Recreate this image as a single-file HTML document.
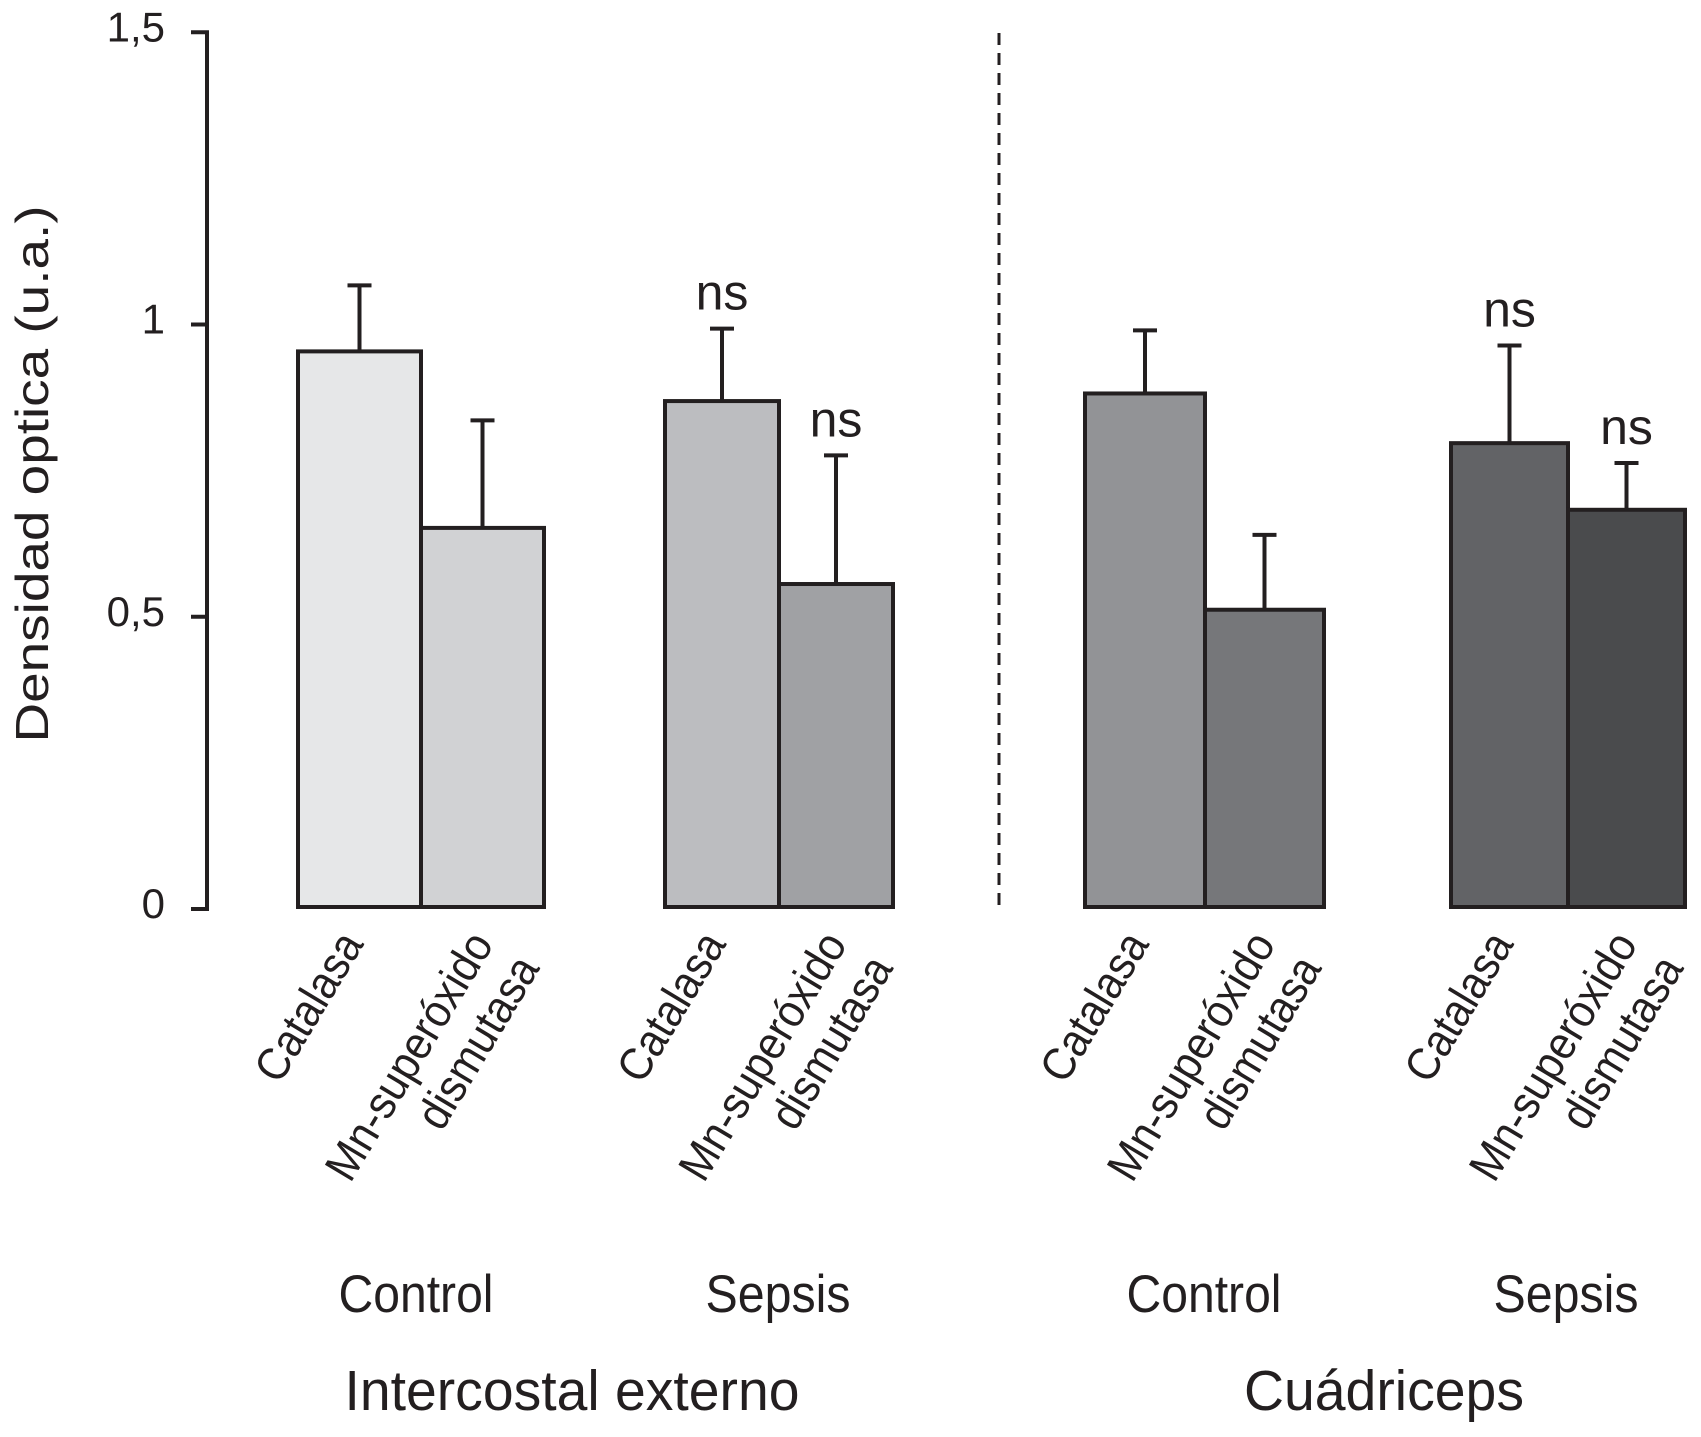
<!DOCTYPE html>
<html><head><meta charset="utf-8"><style>
html,body{margin:0;padding:0;background:#fff;}
svg{display:block;}
text{font-family:"Liberation Sans",sans-serif;fill:#231f20;}
</style></head><body>
<svg id="chart" width="1701" height="1437" viewBox="0 0 1701 1437" xmlns="http://www.w3.org/2000/svg">
<g id="axis"></g>
<g id="bars"></g>
<g id="labels"></g>
<line x1="999" y1="33" x2="999" y2="909" stroke="#231f20" stroke-width="3" stroke-dasharray="12,8"/>
<text transform="translate(48,474) rotate(-90)" text-anchor="middle" font-size="46" textLength="537" lengthAdjust="spacingAndGlyphs">Densidad optica (u.a.)</text>
<text x="416" y="1312" text-anchor="middle" font-size="53" textLength="155" lengthAdjust="spacingAndGlyphs">Control</text>
<text x="778" y="1312" text-anchor="middle" font-size="53" textLength="145" lengthAdjust="spacingAndGlyphs">Sepsis</text>
<text x="1204" y="1312" text-anchor="middle" font-size="53" textLength="155" lengthAdjust="spacingAndGlyphs">Control</text>
<text x="1566" y="1312" text-anchor="middle" font-size="53" textLength="145" lengthAdjust="spacingAndGlyphs">Sepsis</text>
<text x="572" y="1410" text-anchor="middle" font-size="57" textLength="455" lengthAdjust="spacingAndGlyphs">Intercostal externo</text>
<text x="1384" y="1410" text-anchor="middle" font-size="57" textLength="280" lengthAdjust="spacingAndGlyphs">Cuádriceps</text>
</svg>
<script>
const categories = ["Catalasa","Mn-superóxido dismutasa","Catalasa","Mn-superóxido dismutasa","Catalasa","Mn-superóxido dismutasa","Catalasa","Mn-superóxido dismutasa"];
const values = [0.954, 0.652, 0.869, 0.556, 0.882, 0.512, 0.797, 0.683];
const errors = [1.067, 0.836, 0.993, 0.776, 0.990, 0.640, 0.964, 0.763];
const ns = [false, false, true, true, false, false, true, true];
const yTicks = [0, 0.5, 1, 1.5];
const yTickLabels = ["0","0,5","1","1,5"];
const colors = ["#e6e7e8","#d1d2d4","#bcbdc0","#a0a1a4","#929396","#76777a","#626366","#4a4b4d"];
const barLeft = [298,421,665,779,1085,1205,1451,1568];
const barW = [123,123,114,114,120,119,117,117];
const NS = "http://www.w3.org/2000/svg";
function y(v){ return 909 - v*584.5; }
function mk(tag, attrs, parent){ const e=document.createElementNS(NS,tag); for(const k in attrs) e.setAttribute(k, attrs[k]); parent.appendChild(e); return e; }
const ax = document.getElementById('axis');
const axl = mk('line',{x1:207,y1:y(1.5),x2:207,y2:y(0),stroke:'#231f20','stroke-width':4},ax);


yTicks.forEach((t,i)=>{
  const tl = mk('line',{x1:191,y1:y(t),x2:209,y2:y(t),stroke:'#231f20','stroke-width':4},ax);
  
  
  const tx = mk('text',{x:165,y:y(t)+9,'text-anchor':'end','font-size':42},ax);
  
  
  tx.textContent = yTickLabels[i];
});
const bg = document.getElementById('bars');
const lg = document.getElementById('labels');
values.forEach((v,i)=>{
  const x0 = barLeft[i], w = barW[i], cx = x0 + w/2;
  const top = y(v), et = y(errors[i]);
  const el = mk('line',{x1:cx,y1:et,x2:cx,y2:top,stroke:'#231f20','stroke-width':4},bg);
  
  
  const cap = mk('line',{x1:cx-12,y1:et,x2:cx+12,y2:et,stroke:'#231f20','stroke-width':4},bg);
  
  
  const r = mk('rect',{x:x0,y:top,width:w,height:y(0)-2-top,fill:colors[i],stroke:'#231f20','stroke-width':4},bg);
  
  
  if(ns[i]){
    const t = mk('text',{x:cx,y:et-19,'text-anchor':'middle','font-size':50},lg);
    
    
    t.textContent='ns';
  }
  if(i%2===0){
    const t = mk('text',{transform:`translate(${cx+5},944) rotate(-59)`,'text-anchor':'end','font-size':46,textLength:165,lengthAdjust:'spacingAndGlyphs'},lg);
    
    
    t.textContent = categories[i];
  } else {
    const parts = categories[i].split(' ');
    const t1 = mk('text',{transform:`translate(${cx+12},944) rotate(-59)`,'text-anchor':'end','font-size':46,textLength:280,lengthAdjust:'spacingAndGlyphs'},lg);
    
    
    t1.textContent = parts[0];
    const t2 = mk('text',{transform:`translate(${cx+58},968) rotate(-59)`,'text-anchor':'end','font-size':46,textLength:192,lengthAdjust:'spacingAndGlyphs'},lg);
    
    
    t2.textContent = parts[1];
  }
});
</script>
</body></html>
